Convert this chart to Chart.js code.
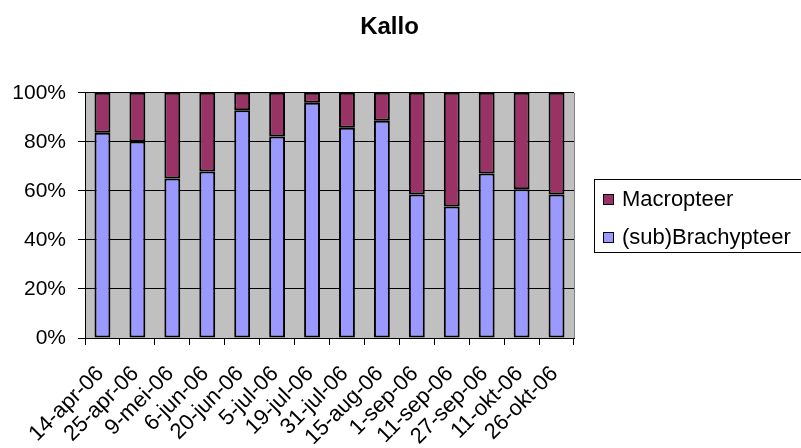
<!DOCTYPE html>
<html>
<head>
<meta charset="utf-8">
<title>Kallo</title>
<script src="https://cdn.jsdelivr.net/npm/chart.js@4"></script>
<style>
  html, body { margin: 0; padding: 0; background: #ffffff; }
  #c { display: block; }
</style>
</head>
<body>
<canvas id="c" width="801" height="448"></canvas>
<script>
// Sampling dates (Kallo, 2006)
const categories = [
  '14-apr-06', '25-apr-06', '9-mei-06', '6-jun-06', '20-jun-06', '5-jul-06', '19-jul-06',
  '31-jul-06', '15-aug-06', '1-sep-06', '11-sep-06', '27-sep-06', '11-okt-06', '26-okt-06'
];

// Share of each wing form per sampling date (%)
const brachypteer = [83.7, 80.1, 65.0, 67.9, 92.9, 82.2, 95.9, 85.7, 88.6, 58.5, 53.6, 67.1, 60.7, 58.5];
const macropteer  = [16.3, 19.9, 35.0, 32.1, 7.1, 17.8, 4.1, 14.3, 11.4, 41.5, 46.4, 32.9, 39.3, 41.5];

// Value axis ticks
const yTickValues = [0, 20, 40, 60, 80, 100];

const FONT = '"Liberation Sans", Arial, sans-serif';

// Grey plot background plus the thin grey frame on the right edge
const plotFrame = {
  id: 'plotFrame',
  beforeDraw(chart) {
    const { ctx, chartArea: a } = chart;
    ctx.save();
    ctx.fillStyle = '#c0c0c0';
    ctx.fillRect(a.left, a.top, a.right - a.left, a.bottom - a.top);
    ctx.restore();
  },
  afterDraw(chart) {
    const { ctx, chartArea: a } = chart;
    ctx.save();
    ctx.strokeStyle = '#808080';
    ctx.lineWidth = 1;
    ctx.beginPath();
    ctx.moveTo(Math.round(a.right) + 0.5, a.top);
    ctx.lineTo(Math.round(a.right) + 0.5, a.bottom);
    ctx.stroke();
    ctx.restore();
  }
};

// Boxed legend to the right of the plot, top series listed first
const boxedLegend = {
  id: 'boxedLegend',
  afterDraw(chart) {
    const { ctx, chartArea: a } = chart;
    const left = Math.round(a.right) + 20;
    const top = 179;
    const rowGap = 38;
    ctx.save();
    ctx.strokeStyle = '#000';
    ctx.lineWidth = 1;
    ctx.strokeRect(left + 0.5, top + 0.5, 260, 73);
    ctx.font = '22px ' + FONT;
    ctx.textBaseline = 'middle';
    const items = chart.data.datasets.slice().reverse();
    items.forEach((ds, i) => {
      const cy = top + 20 + i * rowGap;
      ctx.fillStyle = ds.backgroundColor;
      ctx.fillRect(left + 9, cy - 5, 10, 11);
      ctx.strokeRect(left + 9.5, cy - 4.5, 10, 10);
      ctx.fillStyle = '#000';
      ctx.fillText(ds.label, left + 28, cy + 1);
    });
    ctx.restore();
  }
};

new Chart(document.getElementById('c'), {
  type: 'bar',
  data: {
    labels: categories,
    datasets: [
      {
        label: '(sub)Brachypteer',
        data: brachypteer,
        backgroundColor: '#9999ff',
        borderColor: '#000000',
        borderWidth: 2,
        borderSkipped: false
      },
      {
        label: 'Macropteer',
        data: macropteer,
        backgroundColor: '#993366',
        borderColor: '#000000',
        borderWidth: 2,
        borderSkipped: false
      }
    ]
  },
  options: {
    responsive: false,
    animation: false,
    devicePixelRatio: 1,
    layout: { padding: { left: 0, right: 22, top: 0, bottom: 0 } },
    datasets: {
      bar: { categoryPercentage: 1.0, barPercentage: 1 / 2.2 }
    },
    plugins: {
      legend: { display: false },
      tooltip: { enabled: false },
      title: {
        display: true,
        text: 'Kallo',
        color: '#000',
        font: { family: FONT, size: 24, weight: 'bold', lineHeight: 1.2 },
        padding: { top: 13, bottom: 51 }
      }
    },
    scales: {
      x: {
        stacked: true,
        offset: true,
        afterFit(scale) { scale.height = 110; },
        grid: {
          offset: true,
          drawOnChartArea: false,
          drawTicks: true,
          tickLength: 7,
          color: '#000'
        },
        border: { display: true, color: '#000', width: 1 },
        ticks: {
          autoSkip: false,
          minRotation: 45,
          maxRotation: 45,
          color: '#000',
          padding: 16,
          labelOffset: -2,
          font: { family: FONT, size: 22 }
        }
      },
      y: {
        stacked: true,
        min: 0,
        max: 100,
        afterFit(scale) { scale.width = 85; },
        afterBuildTicks(scale) { scale.ticks = yTickValues.map(v => ({ value: v })); },
        grid: {
          color: '#000',
          lineWidth: 1,
          drawTicks: true,
          tickLength: 7
        },
        border: { display: true, color: '#000', width: 1 },
        ticks: {
          color: '#000',
          padding: 12,
          font: { family: FONT, size: 21 },
          callback: v => v + '%'
        }
      },
      spacer: {
        position: 'right',
        display: true,
        afterFit(scale) { scale.width = 205; },
        grid: { display: false, drawTicks: false },
        border: { display: false },
        ticks: { display: false }
      }
    }
  },
  plugins: [plotFrame, boxedLegend]
});
</script>
</body>
</html>
